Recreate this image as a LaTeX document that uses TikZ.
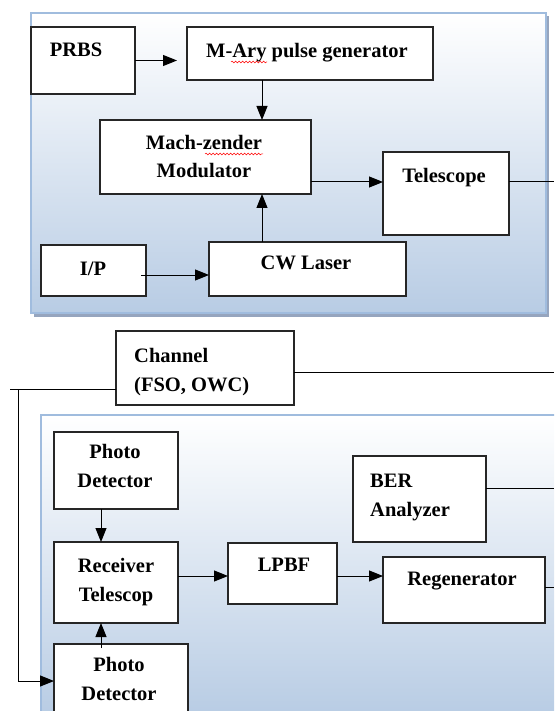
\documentclass[tikz,border=0pt]{standalone}
\usepackage{fontspec}
\setmainfont{Liberation Serif}
\usetikzlibrary{arrows.meta,decorations.pathmorphing}
\definecolor{panelblue}{RGB}{184,204,228}
\definecolor{panelline}{RGB}{160,188,222}
\definecolor{panelshadow}{RGB}{150,165,190}
\tikzset{
  blk/.style={draw=black!85, fill=white, line width=1.1pt, inner sep=0pt, outer sep=0pt},
  txt/.style={font=\fontsize{20.5}{28.5}\selectfont\bfseries, inner sep=0pt, anchor=base, align=center},
  arr/.style={line width=1pt, -{Triangle[length=14pt,width=11pt]}},
  wire/.style={line width=1pt},
  spell/.style={red, line width=.5pt, decorate, decoration={snake, amplitude=.9pt, segment length=3.5pt}}
}
\begin{document}
\begin{tikzpicture}[x=1pt, y=-1pt]
\useasboundingbox (0,0) rectangle (554,711);
\clip (0,0) rectangle (554,711);
% transmitter panel
\fill[panelshadow] (34,16) rectangle (549,317);
\shade[top color=white, bottom color=panelblue, draw=panelline, line width=1.5pt] (31,13) rectangle (546,313);
% receiver panel
\shade[top color=white, bottom color=panelblue, draw=panelline, line width=1.5pt] (41,415) rectangle (600,715);
% boxes
\node[blk, minimum width=104pt, minimum height=67pt] (prbs) at (83,60.5) {};
\node[blk, minimum width=246pt, minimum height=53pt] (mary) at (310,53.5) {};
\node[blk, minimum width=211pt, minimum height=74pt] (mzm) at (205.5,157) {};
\node[blk, minimum width=126pt, minimum height=83pt] (tel) at (446,193.5) {};
\node[blk, minimum width=197pt, minimum height=54pt] (cwl) at (307.5,269) {};
\node[blk, minimum width=105pt, minimum height=51pt] (ip) at (93.5,270.5) {};
\node[blk, minimum width=178pt, minimum height=74pt] (chan) at (205,368) {};
\node[blk, minimum width=124pt, minimum height=77pt] (pdtop) at (116,470.5) {};
\node[blk, minimum width=124pt, minimum height=81pt] (rxtel) at (116,582.5) {};
\node[blk, minimum width=134pt, minimum height=96pt] (pdbot) at (121,692) {};
\node[blk, minimum width=109pt, minimum height=61pt] (lpbf) at (282.5,573.5) {};
\node[blk, minimum width=162pt, minimum height=66pt] (regen) at (464,590) {};
\node[blk, minimum width=133pt, minimum height=86pt] (ber) at (419.5,499) {};
% labels (base = last line)
\node[txt] (prbs-t) at (76,57) {PRBS};
\node[txt] (mary-t) at (307,58) {M-Ary pulse generator};
\node[txt] (mzm-t) at (204,178) {Mach-zender\\Modulator};
\node[txt] (tel-t) at (444,183) {Telescope};
\node[txt] (cwl-t) at (306,269) {CW Laser};
\node[txt] (ip-t) at (93,275) {I/P};
\node[txt, anchor=base west, align=left] (chan-t) at (134,391) {Channel\\(FSO, OWC)};
\node[txt] (pdtop-t) at (115,487) {Photo\\Detector};
\node[txt] (rxtel-t) at (116,601) {Receiver\\Telescop};
\node[txt] (pdbot-t) at (119,700) {Photo\\Detector};
\node[txt] (lpbf-t) at (284,571) {LPBF};
\node[txt] (regen-t) at (462,585) {Regenerator};
\node[txt, anchor=base west, align=left] (ber-t) at (370,516) {BER\\Analyzer};
\draw[spell] (231,62) -- (267,62);
\draw[spell] (205,154) -- (263,154);
% helper coordinates
\coordinate (xm) at (262,0);
\coordinate (xr) at (101,0);
\coordinate (xe) at (554,0);
\coordinate (ym) at (0,182);
\coordinate (yi) at (0,275);
\coordinate (yc) at (0,372);
\coordinate (yl) at (0,389);
\coordinate (yb) at (0,488);
\coordinate (yr) at (0,576);
\coordinate (yg) at (0,587);
\coordinate (yd) at (0,681);
% connectors
\draw[arr] (prbs.east) -- ([xshift=-10pt]prbs.east -| mary.west);
\draw[arr] (xm |- mary.south) -- (xm |- mzm.north);
\draw[arr] (xm |- cwl.north) -- (xm |- mzm.south);
\draw[arr] (ym -| mzm.east) -- (ym -| tel.west);
\draw[wire] (ym -| tel.east) -- (ym -| xe);
\draw[arr] ([xshift=-5pt]yi -| ip.east) -- (yi -| cwl.west);
\draw[wire] (yc -| chan.east) -- (yc -| xe);
\draw[wire] (yl -| chan.west) -- (10,389);
\draw[arr] (18,389) |- (yd -| pdbot.west);
\draw[arr] (xr |- pdtop.south) -- (xr |- rxtel.north);
\draw[arr] ([yshift=-4pt]xr |- pdbot.north) -- (xr |- rxtel.south);
\draw[arr] (yr -| rxtel.east) -- (yr -| lpbf.west);
\draw[arr] (yr -| lpbf.east) -- (yr -| regen.west);
\draw[wire] (yg -| regen.east) -- (yg -| xe);
\draw[wire] (yb -| ber.east) -- (yb -| xe);
\end{tikzpicture}
\end{document}
